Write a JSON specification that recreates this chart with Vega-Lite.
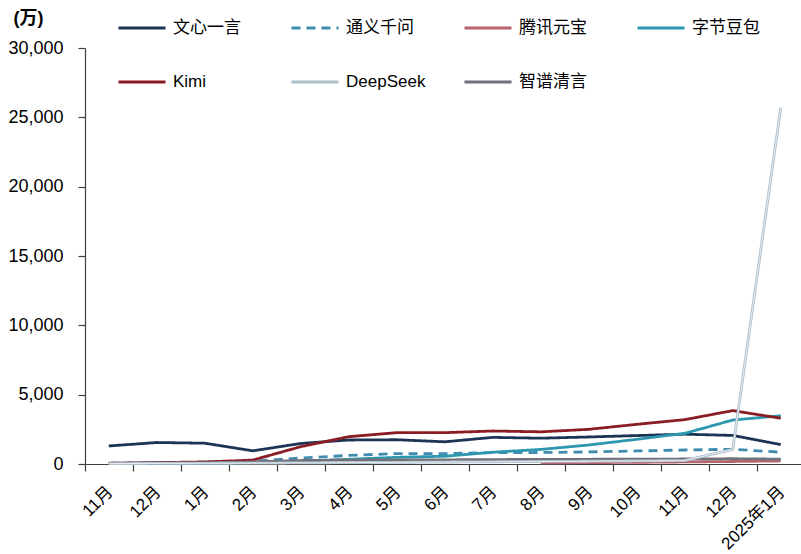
{
  "$schema": "https://vega.github.io/schema/vega-lite/v6.json",
  "width": 716,
  "height": 416,
  "autosize": {"type": "none"},
  "padding": {"left": 85, "top": 48, "right": 0, "bottom": 90},
  "background": "white",
  "config": {
    "font": "Liberation Sans, Noto Sans CJK SC",
    "view": {"stroke": null},
    "axis": {"grid": false, "domainColor": "#404040", "tickColor": "#404040", "labelColor": "#000000", "labelFontSize": 18, "labelFont": "Liberation Sans, Noto Sans CJK SC", "domainWidth": 1.2, "tickWidth": 1.2}
  },
  "data": {
    "values": [
      {"m": "2023年11月", "s": "文心一言", "v": 1300},
      {"m": "2023年12月", "s": "文心一言", "v": 1550},
      {"m": "2024年1月", "s": "文心一言", "v": 1500},
      {"m": "2024年2月", "s": "文心一言", "v": 950},
      {"m": "2024年3月", "s": "文心一言", "v": 1480},
      {"m": "2024年4月", "s": "文心一言", "v": 1730},
      {"m": "2024年5月", "s": "文心一言", "v": 1750},
      {"m": "2024年6月", "s": "文心一言", "v": 1600},
      {"m": "2024年7月", "s": "文心一言", "v": 1920},
      {"m": "2024年8月", "s": "文心一言", "v": 1860},
      {"m": "2024年9月", "s": "文心一言", "v": 1950},
      {"m": "2024年10月", "s": "文心一言", "v": 2050},
      {"m": "2024年11月", "s": "文心一言", "v": 2150},
      {"m": "2024年12月", "s": "文心一言", "v": 2060},
      {"m": "2025年1月", "s": "文心一言", "v": 1400},
      {"m": "2023年11月", "s": "通义千问", "v": 60},
      {"m": "2023年12月", "s": "通义千问", "v": 90},
      {"m": "2024年1月", "s": "通义千问", "v": 120},
      {"m": "2024年2月", "s": "通义千问", "v": 200},
      {"m": "2024年3月", "s": "通义千问", "v": 430},
      {"m": "2024年4月", "s": "通义千问", "v": 620},
      {"m": "2024年5月", "s": "通义千问", "v": 750},
      {"m": "2024年6月", "s": "通义千问", "v": 750},
      {"m": "2024年7月", "s": "通义千问", "v": 820},
      {"m": "2024年8月", "s": "通义千问", "v": 830},
      {"m": "2024年9月", "s": "通义千问", "v": 870},
      {"m": "2024年10月", "s": "通义千问", "v": 940},
      {"m": "2024年11月", "s": "通义千问", "v": 1010},
      {"m": "2024年12月", "s": "通义千问", "v": 1060},
      {"m": "2025年1月", "s": "通义千问", "v": 850},
      {"m": "2023年11月", "s": "字节豆包", "v": 20},
      {"m": "2023年12月", "s": "字节豆包", "v": 40},
      {"m": "2024年1月", "s": "字节豆包", "v": 60},
      {"m": "2024年2月", "s": "字节豆包", "v": 100},
      {"m": "2024年3月", "s": "字节豆包", "v": 200},
      {"m": "2024年4月", "s": "字节豆包", "v": 340},
      {"m": "2024年5月", "s": "字节豆包", "v": 480},
      {"m": "2024年6月", "s": "字节豆包", "v": 560},
      {"m": "2024年7月", "s": "字节豆包", "v": 850},
      {"m": "2024年8月", "s": "字节豆包", "v": 1050},
      {"m": "2024年9月", "s": "字节豆包", "v": 1370},
      {"m": "2024年10月", "s": "字节豆包", "v": 1780},
      {"m": "2024年11月", "s": "字节豆包", "v": 2210},
      {"m": "2024年12月", "s": "字节豆包", "v": 3170},
      {"m": "2025年1月", "s": "字节豆包", "v": 3480},
      {"m": "2023年11月", "s": "Kimi", "v": 50},
      {"m": "2023年12月", "s": "Kimi", "v": 100},
      {"m": "2024年1月", "s": "Kimi", "v": 150},
      {"m": "2024年2月", "s": "Kimi", "v": 280},
      {"m": "2024年3月", "s": "Kimi", "v": 1250},
      {"m": "2024年4月", "s": "Kimi", "v": 1970},
      {"m": "2024年5月", "s": "Kimi", "v": 2260},
      {"m": "2024年6月", "s": "Kimi", "v": 2260},
      {"m": "2024年7月", "s": "Kimi", "v": 2380},
      {"m": "2024年8月", "s": "Kimi", "v": 2320},
      {"m": "2024年9月", "s": "Kimi", "v": 2500},
      {"m": "2024年10月", "s": "Kimi", "v": 2860},
      {"m": "2024年11月", "s": "Kimi", "v": 3200},
      {"m": "2024年12月", "s": "Kimi", "v": 3850},
      {"m": "2025年1月", "s": "Kimi", "v": 3300},
      {"m": "2024年8月", "s": "腾讯元宝", "v": 80},
      {"m": "2024年9月", "s": "腾讯元宝", "v": 100},
      {"m": "2024年10月", "s": "腾讯元宝", "v": 120},
      {"m": "2024年11月", "s": "腾讯元宝", "v": 150},
      {"m": "2024年12月", "s": "腾讯元宝", "v": 180},
      {"m": "2025年1月", "s": "腾讯元宝", "v": 220},
      {"m": "2023年11月", "s": "智谱清言", "v": 50},
      {"m": "2023年12月", "s": "智谱清言", "v": 80},
      {"m": "2024年1月", "s": "智谱清言", "v": 100},
      {"m": "2024年2月", "s": "智谱清言", "v": 150},
      {"m": "2024年3月", "s": "智谱清言", "v": 250},
      {"m": "2024年4月", "s": "智谱清言", "v": 280},
      {"m": "2024年5月", "s": "智谱清言", "v": 300},
      {"m": "2024年6月", "s": "智谱清言", "v": 300},
      {"m": "2024年7月", "s": "智谱清言", "v": 320},
      {"m": "2024年8月", "s": "智谱清言", "v": 330},
      {"m": "2024年9月", "s": "智谱清言", "v": 340},
      {"m": "2024年10月", "s": "智谱清言", "v": 350},
      {"m": "2024年11月", "s": "智谱清言", "v": 360},
      {"m": "2024年12月", "s": "智谱清言", "v": 380},
      {"m": "2025年1月", "s": "智谱清言", "v": 350},
      {"m": "2023年11月", "s": "DeepSeek", "v": 30},
      {"m": "2023年12月", "s": "DeepSeek", "v": 40},
      {"m": "2024年1月", "s": "DeepSeek", "v": 50},
      {"m": "2024年2月", "s": "DeepSeek", "v": 60},
      {"m": "2024年3月", "s": "DeepSeek", "v": 80},
      {"m": "2024年4月", "s": "DeepSeek", "v": 100},
      {"m": "2024年5月", "s": "DeepSeek", "v": 120},
      {"m": "2024年6月", "s": "DeepSeek", "v": 140},
      {"m": "2024年7月", "s": "DeepSeek", "v": 160},
      {"m": "2024年8月", "s": "DeepSeek", "v": 180},
      {"m": "2024年9月", "s": "DeepSeek", "v": 200},
      {"m": "2024年10月", "s": "DeepSeek", "v": 220},
      {"m": "2024年11月", "s": "DeepSeek", "v": 250},
      {"m": "2024年12月", "s": "DeepSeek", "v": 1050},
      {"m": "2025年1月", "s": "DeepSeek", "v": 25700}
    ]
  },
  "layer": [
    {
      "mark": {"type": "line", "strokeWidth": 2.8, "clip": false},
      "encoding": {
        "x": {
          "field": "m", "type": "ordinal",
          "sort": ["2023年11月","2023年12月","2024年1月","2024年2月","2024年3月","2024年4月","2024年5月","2024年6月","2024年7月","2024年8月","2024年9月","2024年10月","2024年11月","2024年12月","2025年1月"],
          "scale": {"type": "point", "padding": 0.4583, "align": 0.54},
          "axis": {
            "title": null, "labelAngle": -45, "labelAlign": "right", "labelBaseline": "middle",
            "tickOffset": -24, "labelOffset": 25, "tickSize": 7, "labelPadding": 18, "labelFontSize": 17,
            "labelExpr": "slice(datum.value,0,4) == '2025' ? datum.value : slice(datum.value,5)"
          }
        },
        "y": {
          "field": "v", "type": "quantitative",
          "scale": {"domain": [0, 30000], "nice": false},
          "axis": {
            "values": [0,5000,10000,15000,20000,25000,30000], "format": ",.0f", "tickSize": 7, "labelPadding": 15,
            "title": "(万)", "titleAngle": 0, "titleX": -72, "titleY": -30, "titleAlign": "left", "titleBaseline": "middle",
            "titleFontSize": 18, "titleFontWeight": "bold", "titleFont": "Liberation Sans, Noto Sans CJK SC"
          }
        },
        "color": {
          "field": "s", "type": "nominal",
          "scale": {
            "domain": ["文心一言","通义千问","腾讯元宝","字节豆包","Kimi","DeepSeek","智谱清言"],
            "range": ["#1c3557","#3f8cae","#b8646d","#2d97b0","#8a1c24","#aebfcc","#717179"]
          },
          "legend": {
            "title": null, "orient": "none", "legendX": 32, "legendY": -45, "columns": 4, "direction": "horizontal",
            "symbolType": "stroke", "symbolSize": 2209, "symbolStrokeWidth": 3, "labelOffset": 6,
            "labelFontSize": 17, "labelFont": "Liberation Sans, Noto Sans CJK SC", "labelColor": "#000000",
            "gridAlign": "all", "columnPadding": 32, "rowPadding": 21
          }
        },
        "strokeDash": {
          "field": "s", "type": "nominal",
          "scale": {
            "domain": ["文心一言","通义千问","腾讯元宝","字节豆包","Kimi","DeepSeek","智谱清言"],
            "range": [[1,0],[9,6],[1,0],[1,0],[1,0],[1,0],[1,0]]
          },
          "legend": {
            "title": null, "orient": "none", "legendX": 32, "legendY": -45, "columns": 4, "direction": "horizontal",
            "symbolType": "stroke", "symbolSize": 2209, "symbolStrokeWidth": 3, "labelOffset": 6,
            "labelFontSize": 17, "labelFont": "Liberation Sans, Noto Sans CJK SC", "labelColor": "#000000",
            "gridAlign": "all", "columnPadding": 32, "rowPadding": 21
          }
        }
      }
    },
    {
      "transform": [{"filter": "datum.s == 'DeepSeek'"}],
      "mark": {"type": "line", "strokeWidth": 0.8, "color": "#f4f7f9", "clip": false},
      "encoding": {
        "x": {"field": "m", "type": "ordinal", "sort": ["2023年11月","2023年12月","2024年1月","2024年2月","2024年3月","2024年4月","2024年5月","2024年6月","2024年7月","2024年8月","2024年9月","2024年10月","2024年11月","2024年12月","2025年1月"]},
        "y": {"field": "v", "type": "quantitative"}
      }
    }
  ]
}
